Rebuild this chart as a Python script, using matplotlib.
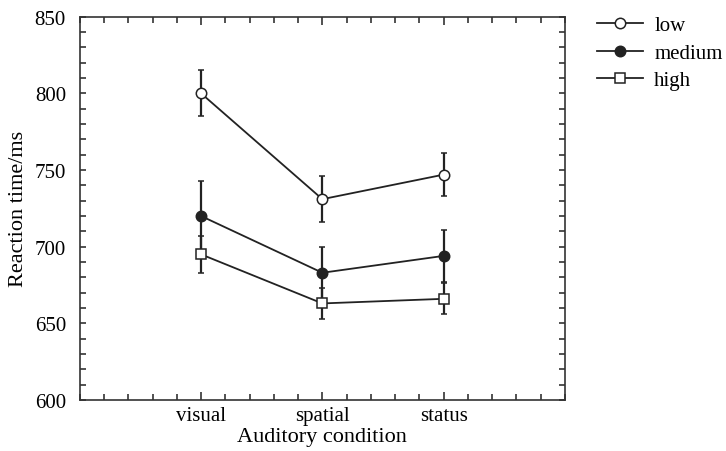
import matplotlib
matplotlib.use('Agg')
import matplotlib.pyplot as plt
from matplotlib.lines import Line2D
from matplotlib.ticker import MultipleLocator, FixedLocator

### Data ###

conditions = ['visual', 'spatial', 'status']
levels = ['low', 'medium', 'high']

low_rt = [800, 731, 747]
low_err = [15, 15, 14]
medium_rt = [720, 683, 694]
medium_err = [23, 17, 17]
high_rt = [695, 663, 666]
high_err = [12, 10, 10]

### Plot ###

plt.rcParams['font.family'] = ['Liberation Serif', 'DejaVu Serif']
ink = '#222222'

fig = plt.figure(figsize=(7.26, 4.52), dpi=100)
ax = fig.add_axes([0.110, 0.1128, 0.668, 0.848])

x = [1, 2, 3]
series = [
    (low_rt, low_err, 'o', 'white'),
    (medium_rt, medium_err, 'o', ink),
    (high_rt, high_err, 's', 'white'),
]

# Draw each level with its error bars
for z, (vals, errs, marker, face) in enumerate(series):
    ax.errorbar(x, vals, yerr=errs, color=ink, lw=1.3, elinewidth=1.6,
                capsize=2.2, capthick=1.6, marker=marker, markersize=7.5 if marker == 'o' else 7,
                markerfacecolor=face, markeredgecolor=ink, markeredgewidth=1.1, zorder=3 + z)

ax.set_xlim(0, 4)
ax.set_ylim(600, 850)
ax.xaxis.set_major_locator(FixedLocator(x))
ax.set_xticklabels(conditions)
ax.xaxis.set_minor_locator(MultipleLocator(0.2))
ax.yaxis.set_major_locator(MultipleLocator(50))
ax.yaxis.set_minor_locator(MultipleLocator(10))

ax.tick_params(which='both', direction='in', top=True, right=True, color=ink,
               width=1.1, labelsize=15)
ax.tick_params(axis='x', which='major', length=6, pad=4)
ax.tick_params(axis='x', which='minor', length=4)
ax.tick_params(axis='y', which='both', length=4, pad=10)
for s in ax.spines.values():
    s.set_color('#333333')
    s.set_linewidth(1.2)

ax.set_xlabel('Auditory condition', fontsize=16, labelpad=2)
ax.set_ylabel('Reaction time/ms', fontsize=16, labelpad=5)

# Legend outside, top right
handles = [Line2D([], [], color=ink, lw=1.3, marker=m, markersize=ms, markerfacecolor=f,
                  markeredgecolor=ink, markeredgewidth=1.1)
           for m, ms, f in [('o', 7.5, 'white'), ('o', 7.5, ink), ('s', 7, 'white')]]
fig.legend(handles, levels, loc='upper left', bbox_to_anchor=(0.802, 0.995), frameon=False,
           fontsize=15, handlelength=2.2, handletextpad=0.55, labelspacing=0.38, borderpad=0.2)

fig.savefig('out.png', dpi=100)
